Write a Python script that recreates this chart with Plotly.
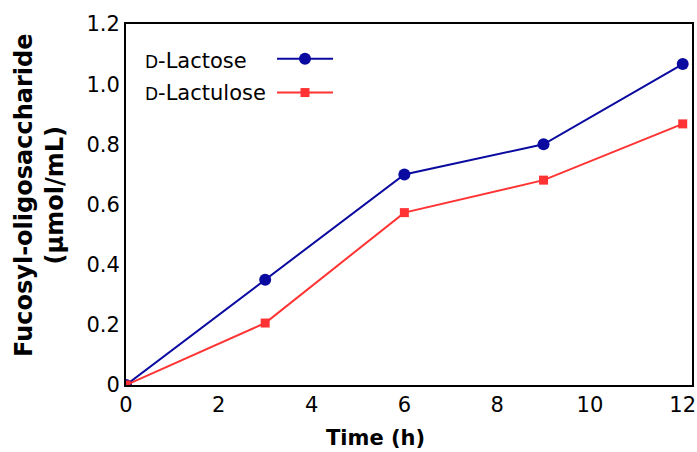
import plotly.graph_objects as go

time_h = [0, 3, 6, 9, 12]
lactose = [0, 0.35, 0.70, 0.80, 1.067]
lactulose = [0, 0.206, 0.573, 0.681, 0.868]
series_names = ['<span style="font-size:17px">D</span>-Lactose',
                '<span style="font-size:17px">D</span>-Lactulose']
y_ticks = [0, 0.2, 0.4, 0.6, 0.8, 1.0, 1.2]
y_ticktext = ["0", "0.2", "0.4", "0.6", "0.8", "1.0", "1.2"]
x_ticks = [0, 2, 4, 6, 8, 10, 12]
x_title = "<b>Time (h)</b>"
y_title = "<b>Fucosyl-oligosaccharide<br>(µmol/mL)</b>"

FONT = "DejaVu Sans"
fig = go.Figure()
fig.add_trace(go.Scatter(x=time_h, y=lactose, mode="lines+markers", name=" ",
                         line=dict(color="#0a0aa0", width=2),
                         marker=dict(symbol="circle", size=12, color="#0a0aa0"),
                         legendgroup="a"))
fig.add_trace(go.Scatter(x=time_h, y=lactulose, mode="lines+markers", name=" ",
                         line=dict(color="#ff3333", width=2),
                         marker=dict(symbol="square", size=9, color="#ff3333"),
                         legendgroup="b"))

W, H = 697, 452
L, R, T, B = 126, 5, 24, 67
pw = W - L - R
ph = H - T - B

def px(x):
    return (x - L) / pw

def py(y):
    return (H - B - y) / ph

for nm, yy in zip(series_names, [61, 93]):
    fig.add_annotation(text=nm, x=px(143), y=py(yy), xref="paper", yref="paper",
                       xanchor="left", yanchor="middle", showarrow=False,
                       font=dict(family=FONT, size=21, color="black"))

fig.add_annotation(text=x_title, x=px(375), y=py(438), xref="paper", yref="paper",
                   xanchor="center", yanchor="middle", showarrow=False,
                   font=dict(family=FONT, size=21, color="black"))
fig.add_annotation(text=y_title, x=px(39), y=py(196), xref="paper", yref="paper",
                   xanchor="center", yanchor="middle", showarrow=False, textangle=-90,
                   font=dict(family=FONT, size=24, color="black"))

fig.update_layout(
    width=W, height=H,
    margin=dict(l=L, r=R, t=T, b=B, autoexpand=False),
    paper_bgcolor="white", plot_bgcolor="white",
    font=dict(family=FONT, size=21, color="black"),
    showlegend=True,
    legend=dict(x=px(272), y=py(40), xanchor="left", yanchor="top",
                bgcolor="rgba(0,0,0,0)", itemwidth=56, tracegroupgap=6,
                font=dict(size=19)),
    xaxis=dict(range=[0, 12.2], tickvals=x_ticks, showgrid=False, zeroline=False,
               showline=True, mirror=True, linecolor="black", linewidth=2,
               ticks="", tickfont=dict(size=21), automargin=False),
    yaxis=dict(range=[0, 1.2], tickvals=y_ticks, ticktext=y_ticktext, showgrid=False,
               zeroline=False, showline=True, mirror=True, linecolor="black",
               linewidth=2, ticks="", tickfont=dict(size=21), automargin=False),
)
fig.write_html("out.html", config={"displayModeBar": False},
               post_script="document.body.style.margin='0';document.body.style.padding='0';")
